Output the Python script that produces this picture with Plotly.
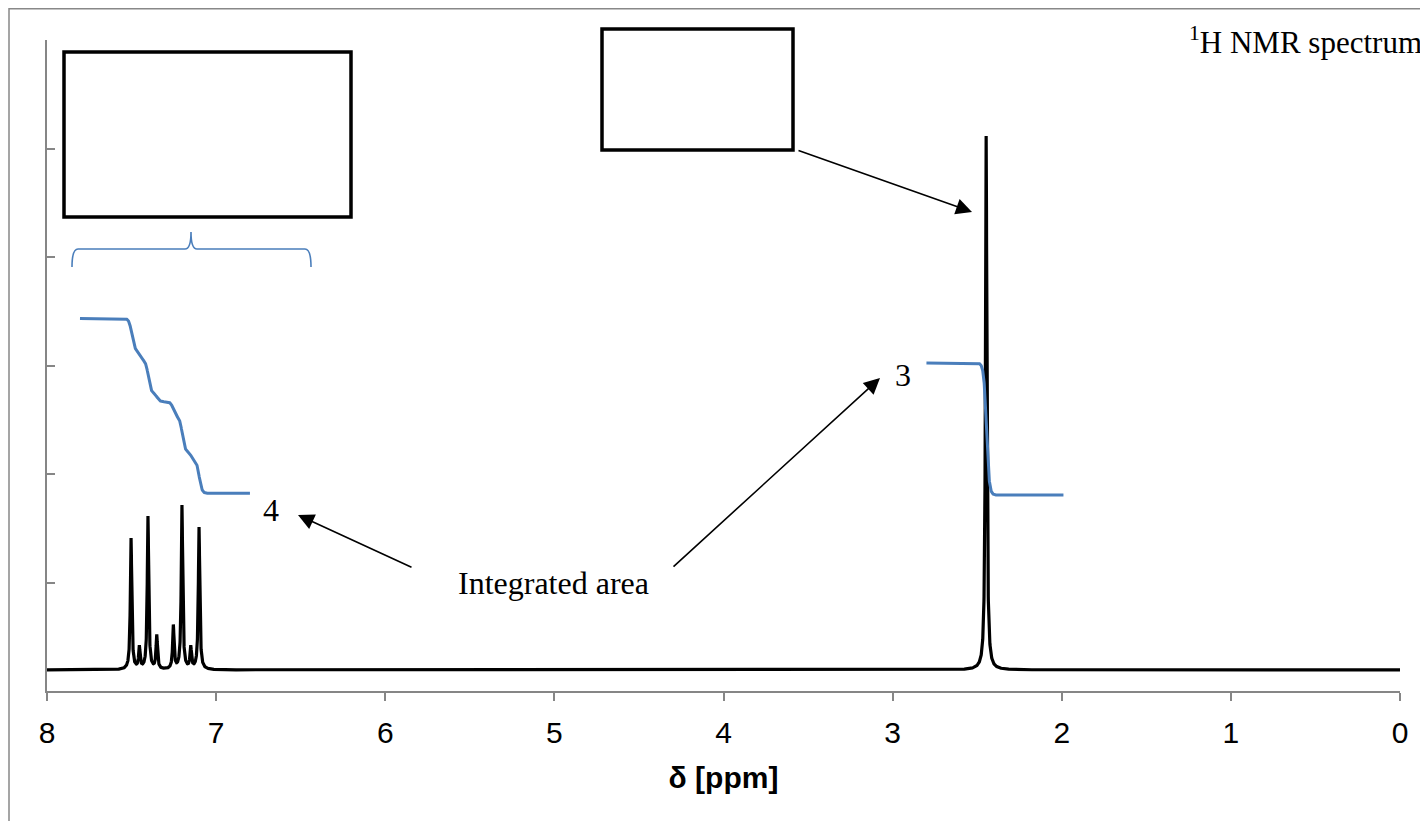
import numpy as np
import plotly.graph_objects as go

# ---------------- data ----------------
# spectrum peaks (chemical shift in ppm, height above baseline in arbitrary units)
peak_ppm = [7.503, 7.454, 7.403, 7.351, 7.253, 7.202, 7.150, 7.101, 2.447]
peak_height = [1.21, 0.20, 1.41, 0.31, 0.40, 1.51, 0.20, 1.31, 4.92]
spectrum_baseline = 0.194
peak_hwhm = 0.005

# integral traces: step positions / step sizes, floor level, ppm span
arom_step_ppm = [7.499, 7.452, 7.401, 7.349, 7.253, 7.200, 7.148, 7.100]
arom_step_size = [0.292, 0.092, 0.304, 0.080, 0.138, 0.323, 0.076, 0.307]
arom_floor = 1.822
arom_span = [7.805, 6.80]

aliph_step_ppm = [2.445]
aliph_step_size = [1.217]
aliph_floor = 1.806
aliph_span = [2.80, 1.99]
step_softness = 0.008

x_ticks = [8, 7, 6, 5, 4, 3, 2, 1, 0]
y_ticks = [0, 1, 2, 3, 4, 5, 6]

# ---------------- build curves ----------------
ppm = np.linspace(8.0, 0.0, 16001)
spec = np.full_like(ppm, spectrum_baseline)
for c, h in zip(peak_ppm, peak_height):
    spec += h * peak_hwhm**2 / (peak_hwhm**2 + (ppm - c) ** 2)


def integral(span, steps, sizes, floor):
    xs = np.linspace(span[0], span[1], 1500)
    ys = np.full_like(xs, floor)
    for c, a in zip(steps, sizes):
        ys += a / (1.0 + np.exp(-(xs - c) / step_softness))
    return xs, ys


ax_x, ax_y = integral(arom_span, arom_step_ppm, arom_step_size, arom_floor)
al_x, al_y = integral(aliph_span, aliph_step_ppm, aliph_step_size, aliph_floor)

BLUE = "#4a7ebb"
fig = go.Figure()
fig.add_trace(go.Scatter(x=ppm, y=spec, mode="lines",
                         line=dict(color="black", width=3.2), hoverinfo="skip"))
fig.add_trace(go.Scatter(x=ax_x, y=ax_y, mode="lines",
                         line=dict(color=BLUE, width=3), hoverinfo="skip"))
fig.add_trace(go.Scatter(x=al_x, y=al_y, mode="lines",
                         line=dict(color=BLUE, width=3), hoverinfo="skip"))

# ---------------- layout / decoration (page-pixel helpers) ----------------
OFF = 8                      # default page body margin
W, H = 1428 - OFF, 821 - OFF
L, R, T, B = 47, 1400, 40, 691   # plot area in page pixels


def px(x):
    return (x - L) / (R - L)


def py(y):
    return (B - y) / (B - T)


shapes = []
# outer chart border
shapes.append(dict(type="rect", xref="paper", yref="paper",
                   x0=px(9), x1=px(1445), y0=py(8.8), y1=py(840),
                   line=dict(color="#888888", width=1.5)))
# empty boxes
for (x0, y0, x1, y1) in [(64, 52, 351, 217), (602, 29, 793, 150)]:
    shapes.append(dict(type="rect", xref="paper", yref="paper",
                       x0=px(x0), x1=px(x1), y0=py(y0), y1=py(y1),
                       line=dict(color="black", width=3.5)))
# curly bracket
path = "M{},{} Q{},{} {},{} L{},{} Q{},{} {},{} Q{},{} {},{} L{},{} Q{},{} {},{}".format(
    px(72), py(267), px(72), py(249), px(78), py(249),
    px(185), py(249), px(191), py(249), px(191), py(232),
    px(191), py(249), px(197), py(249),
    px(305), py(249), px(311), py(249), px(311), py(267))
shapes.append(dict(type="path", xref="paper", yref="paper", path=path,
                   line=dict(color=BLUE, width=1.6)))

annotations = []
# arrows: (head_x, head_y, tail_x, tail_y) in page pixels
for hx, hy, tx, ty in [(298, 515, 413, 568), (880, 378, 672, 568), (972, 212, 797, 150)]:
    annotations.append(dict(x=px(hx), y=py(hy), xref="paper", yref="paper",
                            ax=tx - hx, ay=ty - hy, axref="pixel", ayref="pixel",
                            showarrow=True, arrowhead=2, arrowsize=2.0,
                            arrowwidth=1.6, arrowcolor="black", text=""))
SERIF = "Liberation Serif, Times New Roman, serif"
for txt, x, y in [("Integrated area", 553, 583), ("4", 271, 510), ("3", 903, 375)]:
    annotations.append(dict(x=px(x), y=py(y), xref="paper", yref="paper",
                            text=txt, showarrow=False,
                            font=dict(family=SERIF, size=32, color="black"),
                            xanchor="center", yanchor="middle"))
annotations.append(dict(x=px(1424), y=py(40), xref="paper", yref="paper",
                        text="<sup>1</sup>H NMR spectrum", showarrow=False,
                        font=dict(family=SERIF, size=31, color="black"),
                        xanchor="right", yanchor="middle"))

SANS = "Liberation Sans, Arial, sans-serif"
fig.update_layout(
    width=W, height=H,
    margin=dict(l=L - OFF, r=W - (R - OFF), t=T - OFF, b=H - (B - OFF), pad=0),
    plot_bgcolor="white", paper_bgcolor="white",
    showlegend=False,
    shapes=shapes, annotations=annotations,
    xaxis=dict(range=[8, 0], tickvals=x_ticks, ticktext=[str(v) for v in x_ticks],
               showgrid=False, zeroline=False, showline=True,
               linecolor="#868686", linewidth=1.5,
               ticks="outside", ticklen=8, tickwidth=1.5, tickcolor="#868686",
               ticklabelstandoff=6,
               tickfont=dict(family=SANS, size=30, color="black"),
               title=dict(text="<b>δ [ppm]</b>", standoff=19,
                          font=dict(family=SANS, size=30, color="black"))),
    yaxis=dict(range=[0, 6], tickvals=y_ticks, showticklabels=False,
               showgrid=False, zeroline=False, showline=True,
               linecolor="#868686", linewidth=1.5,
               ticks="inside", ticklen=8, tickwidth=1.5, tickcolor="#868686"),
)

fig.write_html("out.html")
